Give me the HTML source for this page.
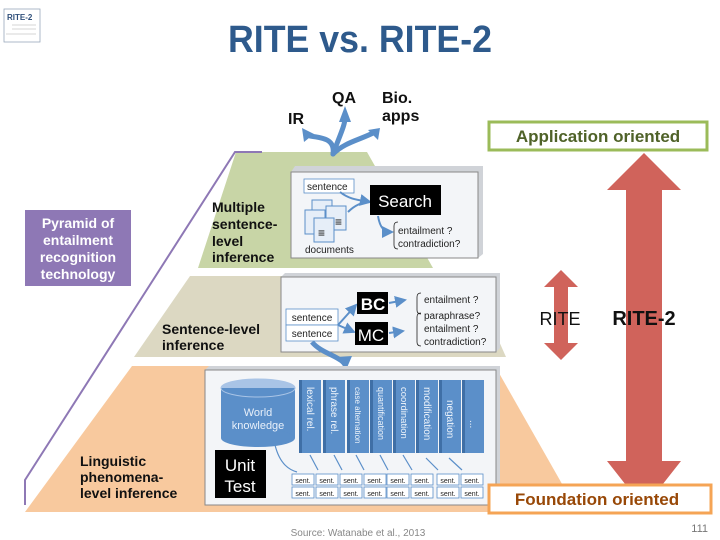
<!DOCTYPE html>
<html><head><meta charset="utf-8"><style>
html,body{margin:0;padding:0;background:#fff;}
svg{display:block;font-family:"Liberation Sans",sans-serif;}
</style></head><body>
<svg width="720" height="540" viewBox="0 0 720 540" xmlns="http://www.w3.org/2000/svg">
<defs>
<marker id="ah" markerWidth="6" markerHeight="6" refX="5" refY="3" orient="auto"><path d="M0,0L6,3L0,6z" fill="#5b8fc9"/></marker>
</defs>
<!-- logo -->
<rect x="4" y="9" width="36" height="33" fill="#fff" stroke="#9aa9bb" stroke-width="0.8"/>
<text x="7" y="20" font-size="8" font-weight="bold" fill="#2f4f7a">RITE-2</text>
<line x1="12" y1="25" x2="36" y2="25" stroke="#aaa" stroke-width="0.6"/>
<line x1="12" y1="29" x2="36" y2="29" stroke="#aaa" stroke-width="0.6"/>
<line x1="6" y1="34" x2="36" y2="34" stroke="#aaa" stroke-width="0.6"/>
<!-- title -->
<text x="360" y="52" font-size="38" font-weight="bold" fill="#2e5a8c" text-anchor="middle" textLength="264" lengthAdjust="spacingAndGlyphs">RITE vs. RITE-2</text>

<!-- pyramid bands -->
<polygon points="236,152 367,152 433,268 198,268" fill="#c8d5a6"/>
<polygon points="190,276 470,276 506,357 134,357" fill="#dcd8c2"/>
<polygon points="132,366 495,366 578,512 25,512" fill="#f8c99e"/>
<!-- purple line -->
<polyline points="262,152 235,152 25,480 25,505" fill="none" stroke="#8e78b5" stroke-width="2"/>
<!-- purple box -->
<rect x="25" y="210" width="106" height="76" fill="#8e78b5"/>
<g font-size="14" font-weight="bold" fill="#fff" text-anchor="middle">
<text x="78" y="228">Pyramid of</text><text x="78" y="245">entailment</text><text x="78" y="262">recognition</text><text x="78" y="279">technology</text></g>

<!-- IR QA Bio arrows -->
<g fill="none" stroke="#5b8fc9" stroke-width="5" stroke-linecap="round">
<path d="M333,154 C335,140 325,138 310,136"/>
<path d="M333,154 C340,135 345,125 345,118"/>
<path d="M333,154 C345,142 360,140 375,132"/>
</g>
<polygon points="345,106 339,122 351,122" fill="#5b8fc9"/>
<polygon points="302,128 304,142 314,134" fill="#5b8fc9"/>
<polygon points="380,128 368,130 378,140" fill="#5b8fc9"/>
<g font-size="16" font-weight="bold" fill="#111">
<text x="288" y="124">IR</text><text x="332" y="103">QA</text><text x="382" y="103">Bio.</text><text x="382" y="121">apps</text></g>

<!-- level labels -->
<g font-size="14" font-weight="bold" fill="#111">
<text x="212" y="212">Multiple</text><text x="212" y="229">sentence-</text><text x="212" y="246">level</text><text x="212" y="262">inference</text>
<text x="162" y="334">Sentence-level</text><text x="162" y="350">inference</text>
<text x="80" y="466">Linguistic</text><text x="80" y="482">phenomena-</text><text x="80" y="498">level inference</text></g>

<!-- Search box -->
<polygon points="295,166 483,166 483,254 478,258 291,258 291,172" fill="#d0d3d8"/>
<rect x="291" y="172" width="187" height="86" fill="#f3f5f8" stroke="#888" stroke-width="1"/>
<rect x="304" y="179" width="50" height="14" fill="#fff" stroke="#5b8fc9" stroke-width="0.8"/>
<text x="307" y="190" font-size="10" fill="#222">sentence</text>
<rect x="312" y="200" width="20" height="24" fill="#e6eef8" stroke="#5b8fc9"/>
<rect x="305" y="210" width="20" height="24" fill="#e6eef8" stroke="#5b8fc9"/>
<rect x="326" y="206" width="20" height="24" fill="#e6eef8" stroke="#5b8fc9"/>
<rect x="314" y="218" width="20" height="24" fill="#e6eef8" stroke="#5b8fc9"/>
<text x="335" y="226" font-size="12" fill="#111">≡</text><text x="318" y="237" font-size="12" fill="#111">≡</text>
<text x="305" y="253" font-size="10" fill="#222">documents</text>
<path d="M340,192 C350,200 360,200 370,202" fill="none" stroke="#5b8fc9" stroke-width="2" marker-end="url(#ah)"/>
<path d="M348,212 C355,205 362,202 370,202" fill="none" stroke="#5b8fc9" stroke-width="2"/>
<rect x="370" y="185" width="71" height="30" fill="#000"/>
<text x="405" y="207" font-size="17" fill="#fff" text-anchor="middle">Search</text>
<path d="M378,216 C380,228 384,232 392,232" fill="none" stroke="#5b8fc9" stroke-width="2" marker-end="url(#ah)"/>
<path d="M398,222 Q394,222 394,226 L394,245 Q394,249 398,249" fill="none" stroke="#222" stroke-width="0.8"/>
<text x="398" y="234" font-size="10" fill="#222">entailment ?</text>
<text x="398" y="247" font-size="10" fill="#222">contradiction?</text>

<!-- mid box -->
<polygon points="285,273 500,273 500,348 496,352 281,352 281,277" fill="#d0d3d8"/>
<rect x="281" y="277" width="215" height="75" fill="#f3f5f8" stroke="#888" stroke-width="1"/>
<rect x="286" y="309" width="52" height="16" fill="#fff" stroke="#5b8fc9" stroke-width="0.8"/>
<rect x="286" y="325" width="52" height="16" fill="#fff" stroke="#5b8fc9" stroke-width="0.8"/>
<text x="312" y="321" font-size="10" fill="#222" text-anchor="middle">sentence</text>
<text x="312" y="337" font-size="10" fill="#222" text-anchor="middle">sentence</text>
<path d="M338,325 L356,305" stroke="#5b8fc9" stroke-width="2" marker-end="url(#ah)"/>
<path d="M338,325 L354,332" stroke="#5b8fc9" stroke-width="2" marker-end="url(#ah)"/>
<rect x="357" y="292" width="31" height="22" fill="#000"/>
<text x="373" y="310" font-size="17" font-weight="bold" fill="#fff" text-anchor="middle">BC</text>
<rect x="355" y="322" width="33" height="23" fill="#000"/>
<text x="371" y="341" font-size="17" fill="#fff" text-anchor="middle">MC</text>
<path d="M389,303 L405,300" stroke="#5b8fc9" stroke-width="2" marker-end="url(#ah)"/>
<path d="M389,333 L403,331" stroke="#5b8fc9" stroke-width="2" marker-end="url(#ah)"/>
<path d="M421,293 Q417,293 417,297 L417,310 Q417,314 421,314" fill="none" stroke="#222" stroke-width="0.8"/>
<path d="M421,313 Q417,313 417,317 L417,342 Q417,346 421,346" fill="none" stroke="#222" stroke-width="0.8"/>
<g font-size="10" fill="#222"><text x="424" y="303">entailment ?</text><text x="424" y="319">paraphrase?</text><text x="424" y="332">entailment ?</text><text x="424" y="345">contradiction?</text></g>
<path d="M312,342 C320,352 335,355 343,362" fill="none" stroke="#5b8fc9" stroke-width="5"/>
<polygon points="336,357 352,356 346,370" fill="#5b8fc9"/>

<!-- bottom box -->
<polygon points="209,366 500,366 500,500 496,505 205,505 205,370" fill="#d0d3d8"/>
<rect x="205" y="370" width="291" height="135" fill="#f3f5f8" stroke="#888" stroke-width="1"/>
<ellipse cx="258" cy="388" rx="37" ry="9" fill="#a9c4e6"/>
<rect x="221" y="388" width="74" height="50" fill="#5b8fc9"/>
<ellipse cx="258" cy="438" rx="37" ry="9" fill="#5b8fc9"/>
<ellipse cx="258" cy="388" rx="37" ry="9" fill="none" stroke="#a9c4e6"/>
<text x="258" y="416" font-size="11" fill="#e8f0fa" text-anchor="middle">World</text>
<text x="258" y="429" font-size="11" fill="#e8f0fa" text-anchor="middle">knowledge</text>
<rect x="215" y="450" width="51" height="48" fill="#000"/>
<text x="240" y="471" font-size="17" fill="#fff" text-anchor="middle">Unit</text>
<text x="240" y="492" font-size="17" fill="#fff" text-anchor="middle">Test</text>
<g fill="#5b8fc9">
<rect x="299" y="380" width="22" height="73"/><rect x="323" y="380" width="22" height="73"/><rect x="347" y="380" width="22" height="73"/><rect x="370" y="380" width="22" height="73"/><rect x="393" y="380" width="22" height="73"/><rect x="416" y="380" width="22" height="73"/><rect x="439" y="380" width="22" height="73"/><rect x="462" y="380" width="22" height="73"/>
</g>
<g fill="#3f6fa6"><rect x="299" y="380" width="3" height="73"/><rect x="323" y="380" width="3" height="73"/><rect x="347" y="380" width="3" height="73"/><rect x="370" y="380" width="3" height="73"/><rect x="393" y="380" width="3" height="73"/><rect x="416" y="380" width="3" height="73"/><rect x="439" y="380" width="3" height="73"/><rect x="462" y="380" width="3" height="73"/></g>
<g font-size="10" fill="#eef4fb">
<text transform="translate(307,387) rotate(90)">lexical rel.</text>
<text transform="translate(331,387) rotate(90)">phrase rel.</text>
<text transform="translate(355,387) rotate(90)" font-size="8">case alternation</text>
<text transform="translate(378,387) rotate(90)" font-size="9">quantification</text>
<text transform="translate(401,387) rotate(90)" font-size="9.5">coordination</text>
<text transform="translate(424,387) rotate(90)">modification</text>
<text transform="translate(447,400) rotate(90)">negation</text>
<text transform="translate(470,420) rotate(90)">...</text>
</g>
<g fill="none" stroke="#5b8fc9" stroke-width="1.2">
<path d="M275,445 C280,465 290,470 297,472"/><path d="M310,455 L318,470"/><path d="M334,455 L342,470"/><path d="M356,455 L364,470"/><path d="M380,455 L388,470"/><path d="M403,455 L412,470"/><path d="M426,458 L438,470"/><path d="M449,458 L462,470"/>
</g>
<g fill="#fff" stroke="#5b8fc9" stroke-width="0.8">
<rect x="292" y="474" width="22" height="11"/><rect x="316" y="474" width="22" height="11"/><rect x="340" y="474" width="22" height="11"/><rect x="364" y="474" width="22" height="11"/><rect x="387" y="474" width="22" height="11"/><rect x="411" y="474" width="22" height="11"/><rect x="437" y="474" width="22" height="11"/><rect x="461" y="474" width="22" height="11"/>
<rect x="292" y="487" width="22" height="11"/><rect x="316" y="487" width="22" height="11"/><rect x="340" y="487" width="22" height="11"/><rect x="364" y="487" width="22" height="11"/><rect x="387" y="487" width="22" height="11"/><rect x="411" y="487" width="22" height="11"/><rect x="437" y="487" width="22" height="11"/><rect x="461" y="487" width="22" height="11"/>
</g>
<g font-size="7" fill="#222" text-anchor="middle">
<text x="303" y="483">sent.</text><text x="327" y="483">sent.</text><text x="351" y="483">sent.</text><text x="375" y="483">sent.</text><text x="398" y="483">sent.</text><text x="422" y="483">sent.</text><text x="448" y="483">sent.</text><text x="472" y="483">sent.</text>
<text x="303" y="496">sent.</text><text x="327" y="496">sent.</text><text x="351" y="496">sent.</text><text x="375" y="496">sent.</text><text x="398" y="496">sent.</text><text x="422" y="496">sent.</text><text x="448" y="496">sent.</text><text x="472" y="496">sent.</text>
</g>

<!-- right side -->
<rect x="489" y="122" width="218" height="28" fill="#fff" stroke="#9bbb59" stroke-width="3"/>
<text x="598" y="142" font-size="17" font-weight="bold" fill="#4f6228" text-anchor="middle">Application oriented</text>
<polygon points="644,153 681,190 662,190 662,461 681,461 644,508 607,461 626,461 626,190 607,190" fill="#d0635b"/>
<polygon points="561,270 578,287 568,287 568,343 578,343 561,360 544,343 554,343 554,287 544,287" fill="#d0635b"/>
<text x="560" y="325" font-size="18" fill="#111" text-anchor="middle">RITE</text>
<text x="644" y="325" font-size="20" font-weight="bold" fill="#111" text-anchor="middle">RITE-2</text>
<rect x="489" y="485" width="222" height="28" fill="#fff" stroke="#f5a455" stroke-width="3"/>
<text x="597" y="505" font-size="17" font-weight="bold" fill="#984807" text-anchor="middle">Foundation oriented</text>

<text x="358" y="536" font-size="10" fill="#888" text-anchor="middle">Source: Watanabe et al., 2013</text>
<text x="708" y="532" font-size="11" fill="#777" text-anchor="end">111</text>
</svg>
</body></html>
